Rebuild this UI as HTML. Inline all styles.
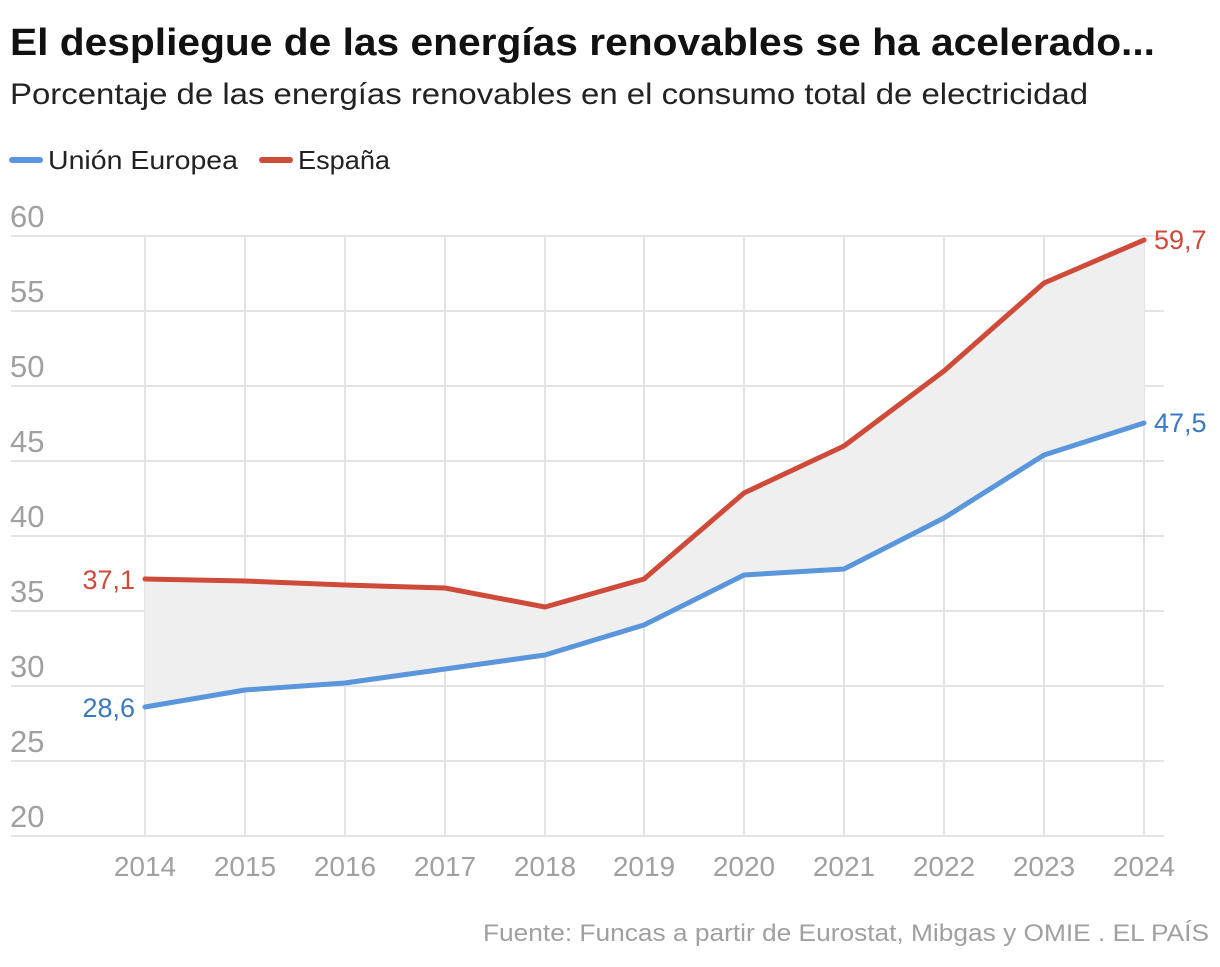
<!DOCTYPE html>
<html><head><meta charset="utf-8"><style>
body{margin:0;background:#fff;width:1220px;height:962px;overflow:hidden;font-family:"Liberation Sans",sans-serif}
</style></head><body>
<svg width="1220" height="962" xmlns="http://www.w3.org/2000/svg" font-family="Liberation Sans, sans-serif">
<text x="10" y="55" font-size="38" font-weight="bold" fill="#111" textLength="1145" lengthAdjust="spacingAndGlyphs">El despliegue de las energías renovables se ha acelerado...</text>
<text x="10" y="104" font-size="30" fill="#222" textLength="1078" lengthAdjust="spacingAndGlyphs">Porcentaje de las energías renovables en el consumo total de electricidad</text>
<line x1="12" y1="160" x2="40" y2="160" stroke="#5a96dc" stroke-width="6" stroke-linecap="round"/>
<text x="48" y="169" font-size="26" fill="#222" textLength="190" lengthAdjust="spacingAndGlyphs">Unión Europea</text>
<line x1="262" y1="160" x2="290" y2="160" stroke="#cf4a39" stroke-width="6" stroke-linecap="round"/>
<text x="298" y="169" font-size="26" fill="#222" textLength="92" lengthAdjust="spacingAndGlyphs">España</text>
<g stroke="#e3e3e3" stroke-width="2">
<line x1="11" y1="236" x2="1164" y2="236"/><line x1="11" y1="311" x2="1164" y2="311"/>
<line x1="11" y1="386" x2="1164" y2="386"/><line x1="11" y1="461" x2="1164" y2="461"/>
<line x1="11" y1="536" x2="1164" y2="536"/><line x1="11" y1="611" x2="1164" y2="611"/>
<line x1="11" y1="686" x2="1164" y2="686"/><line x1="11" y1="761" x2="1164" y2="761"/>
<line x1="11" y1="836" x2="1164" y2="836"/>
<line x1="145" y1="236" x2="145" y2="836"/><line x1="245" y1="236" x2="245" y2="836"/>
<line x1="345" y1="236" x2="345" y2="836"/><line x1="445" y1="236" x2="445" y2="836"/>
<line x1="545" y1="236" x2="545" y2="836"/><line x1="644" y1="236" x2="644" y2="836"/>
<line x1="744" y1="236" x2="744" y2="836"/><line x1="844" y1="236" x2="844" y2="836"/>
<line x1="944" y1="236" x2="944" y2="836"/><line x1="1044" y1="236" x2="1044" y2="836"/>
<line x1="1144" y1="236" x2="1144" y2="836"/>
</g>
<g font-size="31" fill="#a0a0a0">
<text x="10" y="227">60</text><text x="10" y="302">55</text><text x="10" y="377">50</text>
<text x="10" y="452">45</text><text x="10" y="527">40</text><text x="10" y="602">35</text>
<text x="10" y="677">30</text><text x="10" y="752">25</text><text x="10" y="827">20</text>
</g>
<g font-size="28" fill="#a0a0a0" text-anchor="middle">
<text x="145" y="876">2014</text><text x="245" y="876">2015</text><text x="345" y="876">2016</text>
<text x="445" y="876">2017</text><text x="545" y="876">2018</text><text x="644" y="876">2019</text>
<text x="744" y="876">2020</text><text x="844" y="876">2021</text><text x="944" y="876">2022</text>
<text x="1044" y="876">2023</text><text x="1144" y="876">2024</text>
</g>
<polygon fill="#efefef" points="145,579 245,581 345,585 445,588 545,607 644,579 744,493 844,446 944,371 1044,283 1144,240 1144,423 1044,455 944,518 844,569 744,575 644,625 545,655 445,669 345,683 245,690 145,707"/>
<polyline fill="none" stroke="#5a96dc" stroke-width="5" stroke-linejoin="round" stroke-linecap="round" points="145,707 245,690 345,683 445,669 545,655 644,625 744,575 844,569 944,518 1044,455 1144,423"/>
<polyline fill="none" stroke="#cf4a39" stroke-width="5" stroke-linejoin="round" stroke-linecap="round" points="145,579 245,581 345,585 445,588 545,607 644,579 744,493 844,446 944,371 1044,283 1144,240"/>
<text x="135" y="589" font-size="27" fill="#cf4a39" text-anchor="end">37,1</text>
<text x="135" y="717" font-size="27" fill="#3a78c0" text-anchor="end">28,6</text>
<text x="1154" y="249" font-size="27" fill="#cf4a39">59,7</text>
<text x="1154" y="432" font-size="27" fill="#3a78c0">47,5</text>
<text x="1209" y="941" font-size="24" fill="#a0a0a0" text-anchor="end" textLength="726" lengthAdjust="spacingAndGlyphs">Fuente: Funcas a partir de Eurostat, Mibgas y OMIE . EL PAÍS</text>
</svg>
</body></html>
